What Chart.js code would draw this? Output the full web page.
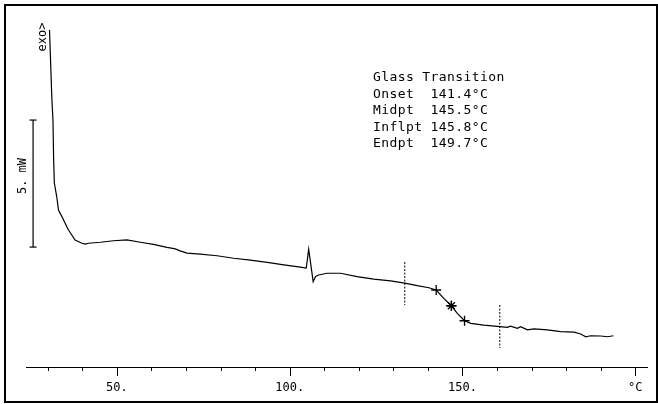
<!DOCTYPE html>
<html><head><meta charset="UTF-8">
<title>DSC Glass Transition</title>
<script src="https://cdn.jsdelivr.net/npm/chart.js"></script>
<style>
  body{margin:0;background:#fff}
  canvas{display:block}
</style>
</head><body>
<canvas id="chart" width="658" height="404"></canvas>
<script>
// DSC trace: temperature (°C) vs heat flow (mW, arbitrary offset)
const tempC = [30.5, 31.2, 31.5, 31.7, 31.9, 32.6, 33.1, 34.1, 35.5, 36.0, 37.9, 39.9, 40.8, 41.8, 45.2, 49.0, 52.9, 56.8, 60.6, 64.5, 66.9, 68.3, 70.3, 74.1, 79.0, 83.8, 88.6, 93.5, 98.3, 103.1, 104.8, 105.5, 106.8, 107.5, 108.4, 110.8, 114.7, 119.5, 124.3, 129.2, 133.3, 136.9, 140.3, 142.4, 144.6, 146.8, 148.5, 150.6, 152.4, 156.2, 160.8, 163.0, 163.9, 165.9, 166.8, 168.8, 170.7, 174.6, 178.4, 182.3, 184.2, 185.7, 187.1, 190.0, 192.0, 193.7];
const heatFlow = [13.27, 10.51, 9.72, 8.15, 7.24, 6.70, 6.18, 5.92, 5.52, 5.39, 5.00, 4.87, 4.84, 4.87, 4.91, 4.97, 5.00, 4.91, 4.83, 4.71, 4.65, 4.57, 4.48, 4.44, 4.38, 4.28, 4.21, 4.12, 4.02, 3.93, 3.89, 4.63, 3.36, 3.56, 3.62, 3.69, 3.69, 3.56, 3.46, 3.39, 3.30, 3.20, 3.12, 3.03, 2.70, 2.41, 2.11, 1.82, 1.72, 1.65, 1.59, 1.56, 1.61, 1.52, 1.59, 1.46, 1.50, 1.46, 1.39, 1.37, 1.30, 1.19, 1.23, 1.22, 1.19, 1.23];

// marks on the curve: onset, midpoint/inflection, endpoint
const markTemp = [142.4, 146.8, 146.8, 150.6];
const markFlow = [3.03, 2.41, 2.41, 1.82];
const markStyle = ['cross', 'star', 'cross', 'cross'];

// dashed limit lines of the evaluation
const limitTemp = [133.3, 160.8];
const limitTop = [4.13, 2.44];
const limitBottom = [2.44, 0.75];

// 5 mW scale bar
const barTemp = 25.75;
const barFrom = 4.72;
const barSize = 5;

const resultLines = ['Glass Transition', 'Onset  141.4°C', 'Midpt  145.5°C', 'Inflpt 145.8°C', 'Endpt  149.7°C'];

const mono = '"DejaVu Sans Mono", "Liberation Mono", monospace';

const pts = (xs, ys) => xs.map((x, i) => ({x: x, y: ys[i]}));

const decor = {
  id: 'decor',
  afterDraw(chart) {
    const ctx = chart.ctx, xs = chart.scales.x, y0 = chart.chartArea.bottom;
    ctx.save();
    ctx.strokeStyle = '#000';
    ctx.fillStyle = '#000';
    ctx.lineWidth = 1;
    // axis tick marks
    xs.ticks.forEach(t => {
      const px = Math.round(xs.getPixelForValue(t.value)) + 0.5;
      const len = t.value % 50 === 0 ? 9 : 4;
      ctx.beginPath(); ctx.moveTo(px, y0); ctx.lineTo(px, y0 + len); ctx.stroke();
    });
    // frame
    ctx.lineWidth = 2;
    ctx.strokeRect(5, 5, 652, 397);
    // result text
    ctx.font = '13px ' + mono;
    ctx.letterSpacing = '0.4px';
    ctx.textBaseline = 'middle';
    resultLines.forEach((s, i) => ctx.fillText(s, 373, 78 + i * 16.4));
    // rotated labels
    ctx.font = '12px ' + mono;
    ctx.letterSpacing = '0px';
    ctx.textAlign = 'center';
    ctx.save(); ctx.translate(42.5, 37); ctx.rotate(-Math.PI / 2);
    ctx.fillText('exo>', 0, 0); ctx.restore();
    ctx.save(); ctx.translate(23, 176); ctx.rotate(-Math.PI / 2);
    ctx.fillText('5. mW', 0, 0); ctx.restore();
    ctx.restore();
  }
};

new Chart(document.getElementById('chart'), {
  type: 'scatter',
  data: {
    datasets: [
      {data: pts(tempC, heatFlow), showLine: true, borderColor: '#000', borderWidth: 1.2, pointRadius: 0},
      {data: pts(markTemp, markFlow), pointStyle: markStyle, pointRadius: 5, borderColor: '#000', borderWidth: 1.3, backgroundColor: '#000'},
      {data: [{x: limitTemp[0], y: limitTop[0]}, {x: limitTemp[0], y: limitBottom[0]}], showLine: true, borderColor: '#000', borderWidth: 1, borderDash: [2, 1.5], pointRadius: 0},
      {data: [{x: limitTemp[1], y: limitTop[1]}, {x: limitTemp[1], y: limitBottom[1]}], showLine: true, borderColor: '#000', borderWidth: 1, borderDash: [2, 1.5], pointRadius: 0},
      {data: [{x: barTemp, y: barFrom}, {x: barTemp, y: barFrom + barSize}], showLine: true, borderColor: '#000', borderWidth: 1.2, pointStyle: 'line', pointRadius: 3.5, pointBorderWidth: 1.2}
    ]
  },
  options: {
    responsive: false,
    animation: false,
    devicePixelRatio: 1,
    layout: {padding: {left: 26, right: 11, top: 7, bottom: 0}},
    plugins: {legend: {display: false}, tooltip: {enabled: false}},
    scales: {
      x: {
        type: 'linear', min: 23.7, max: 203.4,
        afterFit: s => { s.height = 37; },
        border: {display: true, color: '#000', width: 1},
        grid: {display: true, drawOnChartArea: false, drawTicks: false},
        ticks: {
          stepSize: 10, includeBounds: false, autoSkip: false, maxRotation: 0,
          padding: 14, color: '#000', font: {family: mono, size: 12},
          callback: v => v % 50 === 0 ? (v === 200 ? '°C' : v + '.') : ''
        }
      },
      y: {display: false, min: 0, max: 14.17}
    }
  },
  plugins: [decor]
});
</script>
</body></html>
